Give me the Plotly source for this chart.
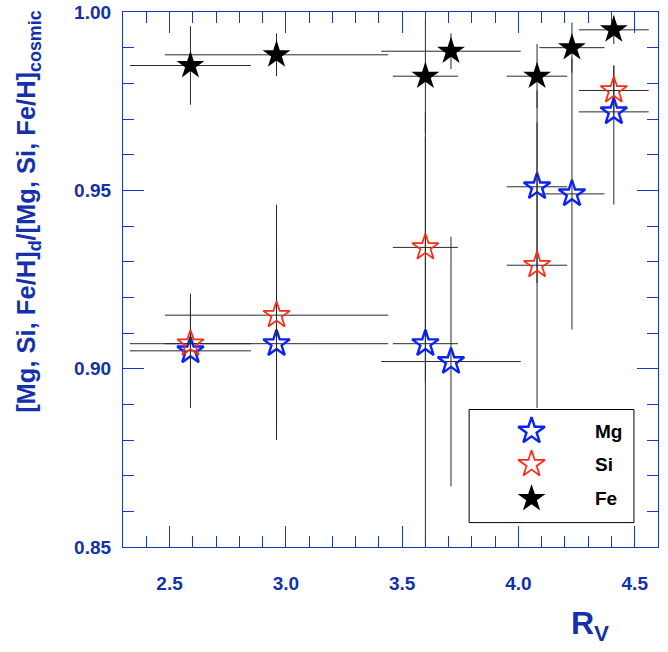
import plotly.graph_objects as go

# ---------------- data ----------------
rv_all = [2.59, 2.96, 3.60, 3.71, 4.08, 4.23, 4.41]
rv_all_err = [0.26, 0.48, 0.14, 0.30, 0.13, 0.14, 0.15]

mg_vals = [0.905, 0.907, 0.907, 0.902, 0.951, 0.949, 0.972]
mg_err_plus = [0.016, 0.027, 0.058, 0.035, 0.027, 0.038, 0.013]
mg_err_minus = [0.016, 0.027, 0.058, 0.035, 0.027, 0.038, 0.026]

si_rv = [2.59, 2.96, 3.60, 4.08, 4.41]
si_rv_err = [0.26, 0.48, 0.14, 0.13, 0.15]
si_vals = [0.907, 0.915, 0.934, 0.929, 0.978]
si_err = [0.012, 0.031, 0.038, 0.040, 0.007]

fe_vals = [0.985, 0.988, 0.982, 0.989, 0.982, 0.990, 0.995]
fe_err = [0.011, 0.006, 0.016, 0.005, 0.009, 0.007, 0.004]

series_names = ["Mg", "Si", "Fe"]

x_ticks = [2.5, 3.0, 3.5, 4.0, 4.5]
y_ticks = [0.85, 0.90, 0.95, 1.00]

# ---------------- style ----------------
BLUE_TXT = "#1430AC"
BLUE_AX = "#1838C4"
MG_COL = "#0A22F5"
SI_COL = "#FF2A14"
FE_COL = "#000000"
ERR_COL = "#2a2a2a"
FONT = "Liberation Sans"

W, H = 668, 652
ML, MR, MT, MB = 123, 10, 12, 105

OPEN_SIZE = 20
FILLED_SIZE = 21

fig = go.Figure()

def errx(arr):
    return dict(type="data", array=arr, color=ERR_COL, thickness=1, width=0)

fig.add_trace(go.Scatter(
    x=rv_all, y=mg_vals, mode="markers", name="Mg", showlegend=False,
    error_x=errx(rv_all_err),
    error_y=dict(type="data", symmetric=False, array=mg_err_plus, arrayminus=mg_err_minus,
                 color=ERR_COL, thickness=1, width=0),
    marker=dict(symbol="star-open", size=OPEN_SIZE, color=MG_COL, line=dict(color=MG_COL, width=2.4)),
))
fig.add_trace(go.Scatter(
    x=si_rv, y=si_vals, mode="markers", name="Si", showlegend=False,
    error_x=errx(si_rv_err),
    error_y=dict(type="data", array=si_err, color=ERR_COL, thickness=1, width=0),
    marker=dict(symbol="star-open", size=OPEN_SIZE, color=SI_COL, line=dict(color=SI_COL, width=1.7)),
))
fig.add_trace(go.Scatter(
    x=rv_all, y=fe_vals, mode="markers", name="Fe", showlegend=False,
    error_x=errx(rv_all_err),
    error_y=dict(type="data", array=fe_err, color=ERR_COL, thickness=1, width=0),
    marker=dict(symbol="star", size=FILLED_SIZE, color=FE_COL, line=dict(width=0)),
))

# ---------------- manual legend (layout positions, paper fraction) ----------------
LEG_BOX = (0.647, 0.0456, 0.955, 0.257)
LEG_SYM_X = 0.7636
LEG_TXT_X = 0.8787
LEG_ROWS_Y = [0.2168, 0.1546, 0.0905]
leg_styles = [
    dict(symbol="star-open", size=OPEN_SIZE, color=MG_COL, line=dict(color=MG_COL, width=2.4)),
    dict(symbol="star-open", size=OPEN_SIZE, color=SI_COL, line=dict(color=SI_COL, width=1.7)),
    dict(symbol="star", size=FILLED_SIZE, color=FE_COL, line=dict(width=0)),
]
for name, yy, st in zip(series_names, LEG_ROWS_Y, leg_styles):
    fig.add_trace(go.Scatter(x=[LEG_SYM_X], y=[yy], mode="markers", marker=st,
                             xaxis="x2", yaxis="y2", showlegend=False, hoverinfo="skip"))
    fig.add_annotation(x=LEG_TXT_X, y=yy, xref="paper", yref="paper", text=name,
                       showarrow=False, xanchor="left", yanchor="middle",
                       font=dict(family=FONT, size=19, color="black", weight="bold"))

fig.add_shape(type="rect", xref="paper", yref="paper",
              x0=LEG_BOX[0], y0=LEG_BOX[1], x1=LEG_BOX[2], y1=LEG_BOX[3],
              line=dict(color="black", width=1), fillcolor="rgba(0,0,0,0)", layer="below")

tickfont = dict(family=FONT, size=19, color=BLUE_TXT, weight="bold")
common = dict(
    showline=True, linecolor=BLUE_AX, linewidth=1.2, mirror="allticks",
    ticks="inside", ticklen=21, tickwidth=1, tickcolor=BLUE_AX,
    showgrid=False, zeroline=False, tickfont=tickfont, automargin=False,
    ticklabeloverflow="allow",
    minor=dict(ticks="inside", ticklen=11, tickwidth=1, tickcolor=BLUE_AX, showgrid=False),
)

fig.update_layout(
    width=W, height=H,
    margin=dict(l=ML, r=MR, t=MT, b=MB, autoexpand=False),
    paper_bgcolor="white", plot_bgcolor="white",
    showlegend=False,
    xaxis=dict(range=[2.3, 4.6], tickvals=x_ticks, ticktext=[f"{v:.1f}" for v in x_ticks],
               minor_dtick=0.1, ticklabelstandoff=19, **common),
    yaxis=dict(range=[0.85, 1.0], tickvals=y_ticks, ticktext=[f"{v:.2f}" for v in y_ticks],
               minor_dtick=0.01, ticklabelstandoff=7, **common),
    xaxis2=dict(domain=[0, 1], range=[0, 1], overlaying="x", visible=False, anchor="y2"),
    yaxis2=dict(domain=[0, 1], range=[0, 1], overlaying="y", visible=False, anchor="x2"),
)

# axis titles (ROOT style, right/top aligned)
fig.add_annotation(x=0.912, y=-0.105, xref="paper", yref="paper",
                   text="R<sub>V</sub>", showarrow=False, xanchor="right", yanchor="top",
                   font=dict(family=FONT, size=32, color=BLUE_TXT, weight="bold"))
fig.add_annotation(x=-0.21, y=1.008, xref="paper", yref="paper",
                   text="[Mg, Si, Fe/H]<sub>d</sub>/[Mg, Si, Fe/H]<sub>cosmic</sub>",
                   textangle=-90, showarrow=False, xanchor="left", yanchor="top",
                   font=dict(family=FONT, size=25.5, color=BLUE_TXT, weight="bold"))

# remove the browser's default 8px body margin so the figure fills the window exactly
fig.write_html("out.html",
               config={"displayModeBar": False},
               post_script="document.body.style.margin='0px';document.body.style.overflow='hidden';")
